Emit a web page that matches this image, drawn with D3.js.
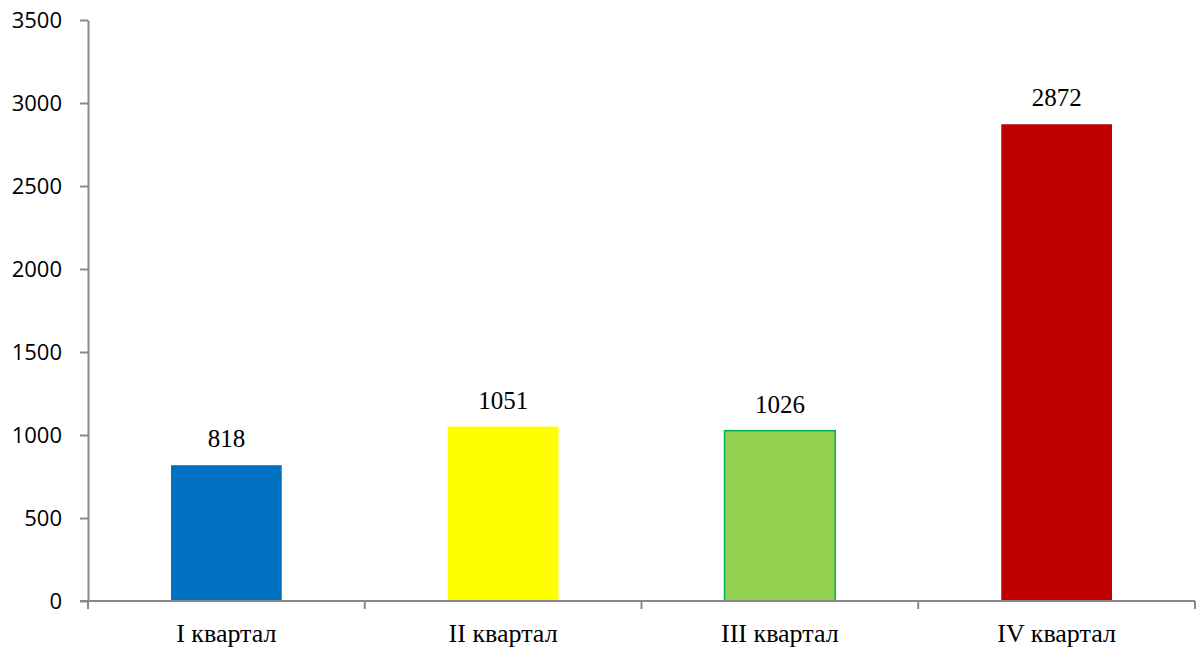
<!DOCTYPE html>
<html>
<head>
<meta charset="utf-8">
<script src="https://cdn.jsdelivr.net/npm/d3@7"></script>
<style>
  html, body { margin: 0; padding: 0; background: #fff; }
  #chart { width: 1200px; height: 648px; }
  .y-axis text { font-family: "Open Sans", sans-serif; font-size: 22px; fill: #000; }
  .cat-label { font-family: "Liberation Serif", "Times New Roman", serif; font-size: 26px; font-weight: normal; fill: #000; }
  .value-label { font-family: "Liberation Serif", "Times New Roman", serif; font-size: 25px; fill: #000; }
</style>
</head>
<body>
<div id="chart"></div>
<script>
"use strict";

const categories = ["I квартал", "II квартал", "III квартал", "IV квартал"];
const values = [818, 1051, 1026, 2872];
const yTicks = [0, 500, 1000, 1500, 2000, 2500, 3000, 3500];
const barColors = ["#0070C0", "#FFFF00", "#92D050", "#C00000"];
const barStrokes = ["none", "none", "#00B050", "none"];

const W = 1200;
const H = 648;
const plotLeft = 88;
const plotRight = 1195;
const plotTop = 20;
const plotBottom = 601;
const axisColor = "#898989";

const svg = d3
  .select("#chart")
  .append("svg")
  .attr("width", W)
  .attr("height", H);

const xScale = d3
  .scaleBand()
  .domain(categories)
  .range([plotLeft, plotRight])
  .paddingInner(0.6)
  .paddingOuter(0.3);

const yScale = d3.scaleLinear().domain([0, 3500]).range([plotBottom, plotTop]);

// bars
svg
  .selectAll("rect.bar")
  .data(values)
  .enter()
  .append("rect")
  .attr("class", "bar")
  .attr("x", (d, i) => xScale(categories[i]))
  .attr("y", (d) => yScale(d))
  .attr("width", xScale.bandwidth())
  .attr("height", (d) => yScale(0) - yScale(d))
  .style("fill", (d, i) => barColors[i])
  .style("stroke", (d, i) => barStrokes[i])
  .style("stroke-width", 1.5);

// value labels
svg
  .selectAll("text.value-label")
  .data(values)
  .enter()
  .append("text")
  .attr("class", "value-label")
  .attr("x", (d, i) => xScale(categories[i]) + xScale.bandwidth() / 2)
  .attr("y", (d) => yScale(d) - 18)
  .attr("text-anchor", "middle")
  .text((d) => d);

// y-axis
const yAxis = svg
  .append("g")
  .attr("class", "y-axis")
  .attr("transform", `translate(${plotLeft}, 0)`)
  .call(
    d3
      .axisLeft(yScale)
      .tickValues(yTicks)
      .tickFormat(d3.format("d"))
      .tickSize(8)
      .tickPadding(18)
      .tickSizeOuter(0)
  );
yAxis.attr("font-family", null).attr("font-size", null);
yAxis.select(".domain").style("stroke", axisColor).style("stroke-width", 2);
yAxis.selectAll(".tick line").style("stroke", axisColor).style("stroke-width", 2);
yAxis.selectAll(".tick text").attr("dy", "0.36em");

// x-axis line
svg
  .append("line")
  .attr("x1", plotLeft - 8)
  .attr("x2", plotRight)
  .attr("y1", yScale(0))
  .attr("y2", yScale(0))
  .style("stroke", axisColor)
  .style("stroke-width", 2);

// x ticks between categories
const step = xScale.step();
const bounds = categories.map((c) => xScale(c) - (step * xScale.paddingInner()) / 2);
bounds.push(plotRight);
svg
  .selectAll("line.x-tick")
  .data(bounds)
  .enter()
  .append("line")
  .attr("class", "x-tick")
  .attr("x1", (d) => d)
  .attr("x2", (d) => d)
  .attr("y1", yScale(0))
  .attr("y2", yScale(0) + 8)
  .style("stroke", axisColor)
  .style("stroke-width", 2);

// category labels
svg
  .selectAll("text.cat-label")
  .data(categories)
  .enter()
  .append("text")
  .attr("class", "cat-label")
  .attr("x", (d) => xScale(d) + xScale.bandwidth() / 2)
  .attr("y", 642)
  .attr("text-anchor", "middle")
  .text((d) => d);
</script>
</body>
</html>
